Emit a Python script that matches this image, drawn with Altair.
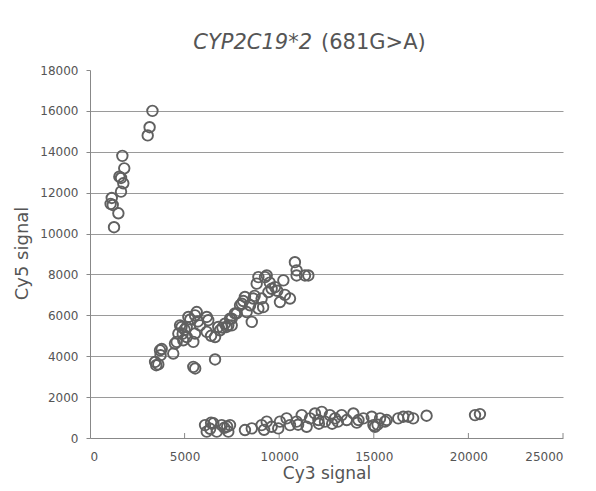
import altair as alt
import pandas as pd

# ---- data ----
cy3 = [
    # upper-left cluster
    3300, 3150, 3050, 1710, 1810, 1640, 1550, 1760, 1640, 1150, 1090, 1200, 1500, 1270,
    # diagonal cluster
    10830, 10920, 11360, 10920, 8900, 9250, 10220, 8810, 9780, 9430, 10570, 10040, 9070,
    8630, 8190, 8020, 8460, 8900, 8280, 8550, 7660, 7400, 7490, 7220, 9600, 9340, 11540,
    3700, 3730, 3440, 3500, 4400, 4580, 4670, 4760, 5110, 5200, 5550, 5640, 5110, 5460,
    5550, 5810, 6170, 6170, 6610, 6780, 7130, 7490, 7750, 7930, 5460, 5560, 6610, 3790,
    3610, 4490, 4930, 4840, 6250, 6870, 7310,
    5000, 5300, 5700, 4900, 6400, 7000, 8100, 8700, 9500, 10300, 9900, 9150,
    # lower cluster
    6080, 6170, 6520, 6700, 6960, 7310, 7400, 8190, 8550, 9070, 9340, 9600, 9950, 10040,
    10390, 10570, 10920, 11190, 11450, 11630, 11890, 12070, 12250, 12420, 12680, 12950,
    13300, 13570, 13920, 14190, 14450, 14890, 14980, 15330, 15590, 15060, 15680, 16290,
    16560, 16820, 17080, 17790, 20350, 20610, 6350, 7100, 9200, 12800,
    6400, 7250, 11000, 12100, 13100, 14100, 15200,
]
cy5 = [
    16000, 15200, 14800, 13800, 13190, 12720, 12780, 12460, 12050, 11740, 11450, 11400, 10990, 10310,
    8600, 8200, 7950, 7950, 7870, 7870, 7710, 7550, 7380, 7140, 6820, 6650, 6820,
    6820, 6900, 6570, 6490, 6330, 6160, 5680, 6090, 5840, 5510, 5430, 7300, 7950, 7950,
    4290, 4050, 3720, 3560, 4130, 4700, 5110, 5510, 5430, 5920, 6000, 6160, 4940, 4700,
    5110, 5510, 5920, 5190, 4940, 5430, 5590, 5840, 6090, 6490, 3480, 3400, 3840, 4350,
    3600, 4620, 4780, 5430, 5760, 5270, 5510,
    5300, 5800, 5700, 5100, 5000, 5400, 6700, 6950, 7600, 7000, 7200, 6400,
    630, 310, 720, 310, 630, 310, 630, 390, 470, 630, 800, 550, 470, 800,
    960, 630, 800, 1120, 550, 960, 1200, 880, 1280, 800, 1120, 960,
    1120, 880, 1200, 880, 960, 1040, 630, 960, 800, 550, 880, 960,
    1040, 1040, 960, 1090, 1120, 1170, 450, 500, 400, 700,
    750, 560, 650, 700, 800, 750, 650,
]

x_ticks = [0, 5000, 10000, 15000, 20000, 25000]
y_ticks = [0, 2000, 4000, 6000, 8000, 10000, 12000, 14000, 16000, 18000]
title_italic = "CYP2C19*2"
title_rest = "(681G>A)"
x_title = "Cy3 signal"
y_title = "Cy5 signal"

df = pd.DataFrame({"cy3": cy3, "cy5": cy5})
ticks_df = pd.DataFrame({"t": x_ticks[1:]})

W, H = 473, 368
FONT = "DejaVu Sans"
TXT = "#555555"

xscale = alt.Scale(domain=[0, 25000], nice=False)
yscale = alt.Scale(domain=[0, 18000], nice=False)

points = alt.Chart(df).mark_point(
    filled=False, shape="circle", size=110, stroke="#606060", strokeWidth=1.9, opacity=1
).encode(
    x=alt.X("cy3:Q", scale=xscale,
            axis=alt.Axis(values=x_ticks, title=x_title, grid=False, ticks=False,
                          labelPadding=13, titleY=40, titleBaseline="alphabetic",
                          titleFontSize=17, format="d")),
    y=alt.Y("cy5:Q", scale=yscale,
            axis=alt.Axis(values=y_ticks, title=y_title, tickSize=4, labelPadding=8,
                          gridOpacity=alt.condition("datum.value == 18000 || datum.value == 0",
                                                    alt.value(0), alt.value(1)),
                          titleAngle=-90, titleX=-68, titleY=183,
                          titleAlign="center", titleBaseline="middle", format="d")),
)

xticks_up = alt.Chart(ticks_df).mark_rule(color="#888888", strokeWidth=1).encode(
    x=alt.X("t:Q", scale=xscale), y=alt.value(H), y2=alt.value(H - 5)
)

t1 = alt.Chart(pd.DataFrame({"s": [title_italic]})).mark_text(
    align="right", baseline="alphabetic", fontSize=21, fontStyle="italic",
    font=FONT, color=TXT
).encode(text="s:N", x=alt.value(222), y=alt.value(-21))

t2 = alt.Chart(pd.DataFrame({"s": [title_rest]})).mark_text(
    align="left", baseline="alphabetic", fontSize=21,
    font=FONT, color=TXT
).encode(text="s:N", x=alt.value(231), y=alt.value(-21))

chart = alt.layer(xticks_up, points, t1, t2).properties(
    width=W, height=H,
    autosize=alt.AutoSizeParams(type="none"),
    padding={"left": 82, "top": 62, "right": 20, "bottom": 46},
).configure_view(stroke=None).configure_axis(
    domainColor="#888888", tickColor="#888888", gridColor="#9a9a9a", gridWidth=1,
    labelFont=FONT, labelFontSize=12, labelColor=TXT,
    titleFont=FONT, titleFontSize=18, titleFontWeight="normal", titleColor=TXT,
)

chart.save("out.html", embed_options={"renderer": "svg", "actions": False})
